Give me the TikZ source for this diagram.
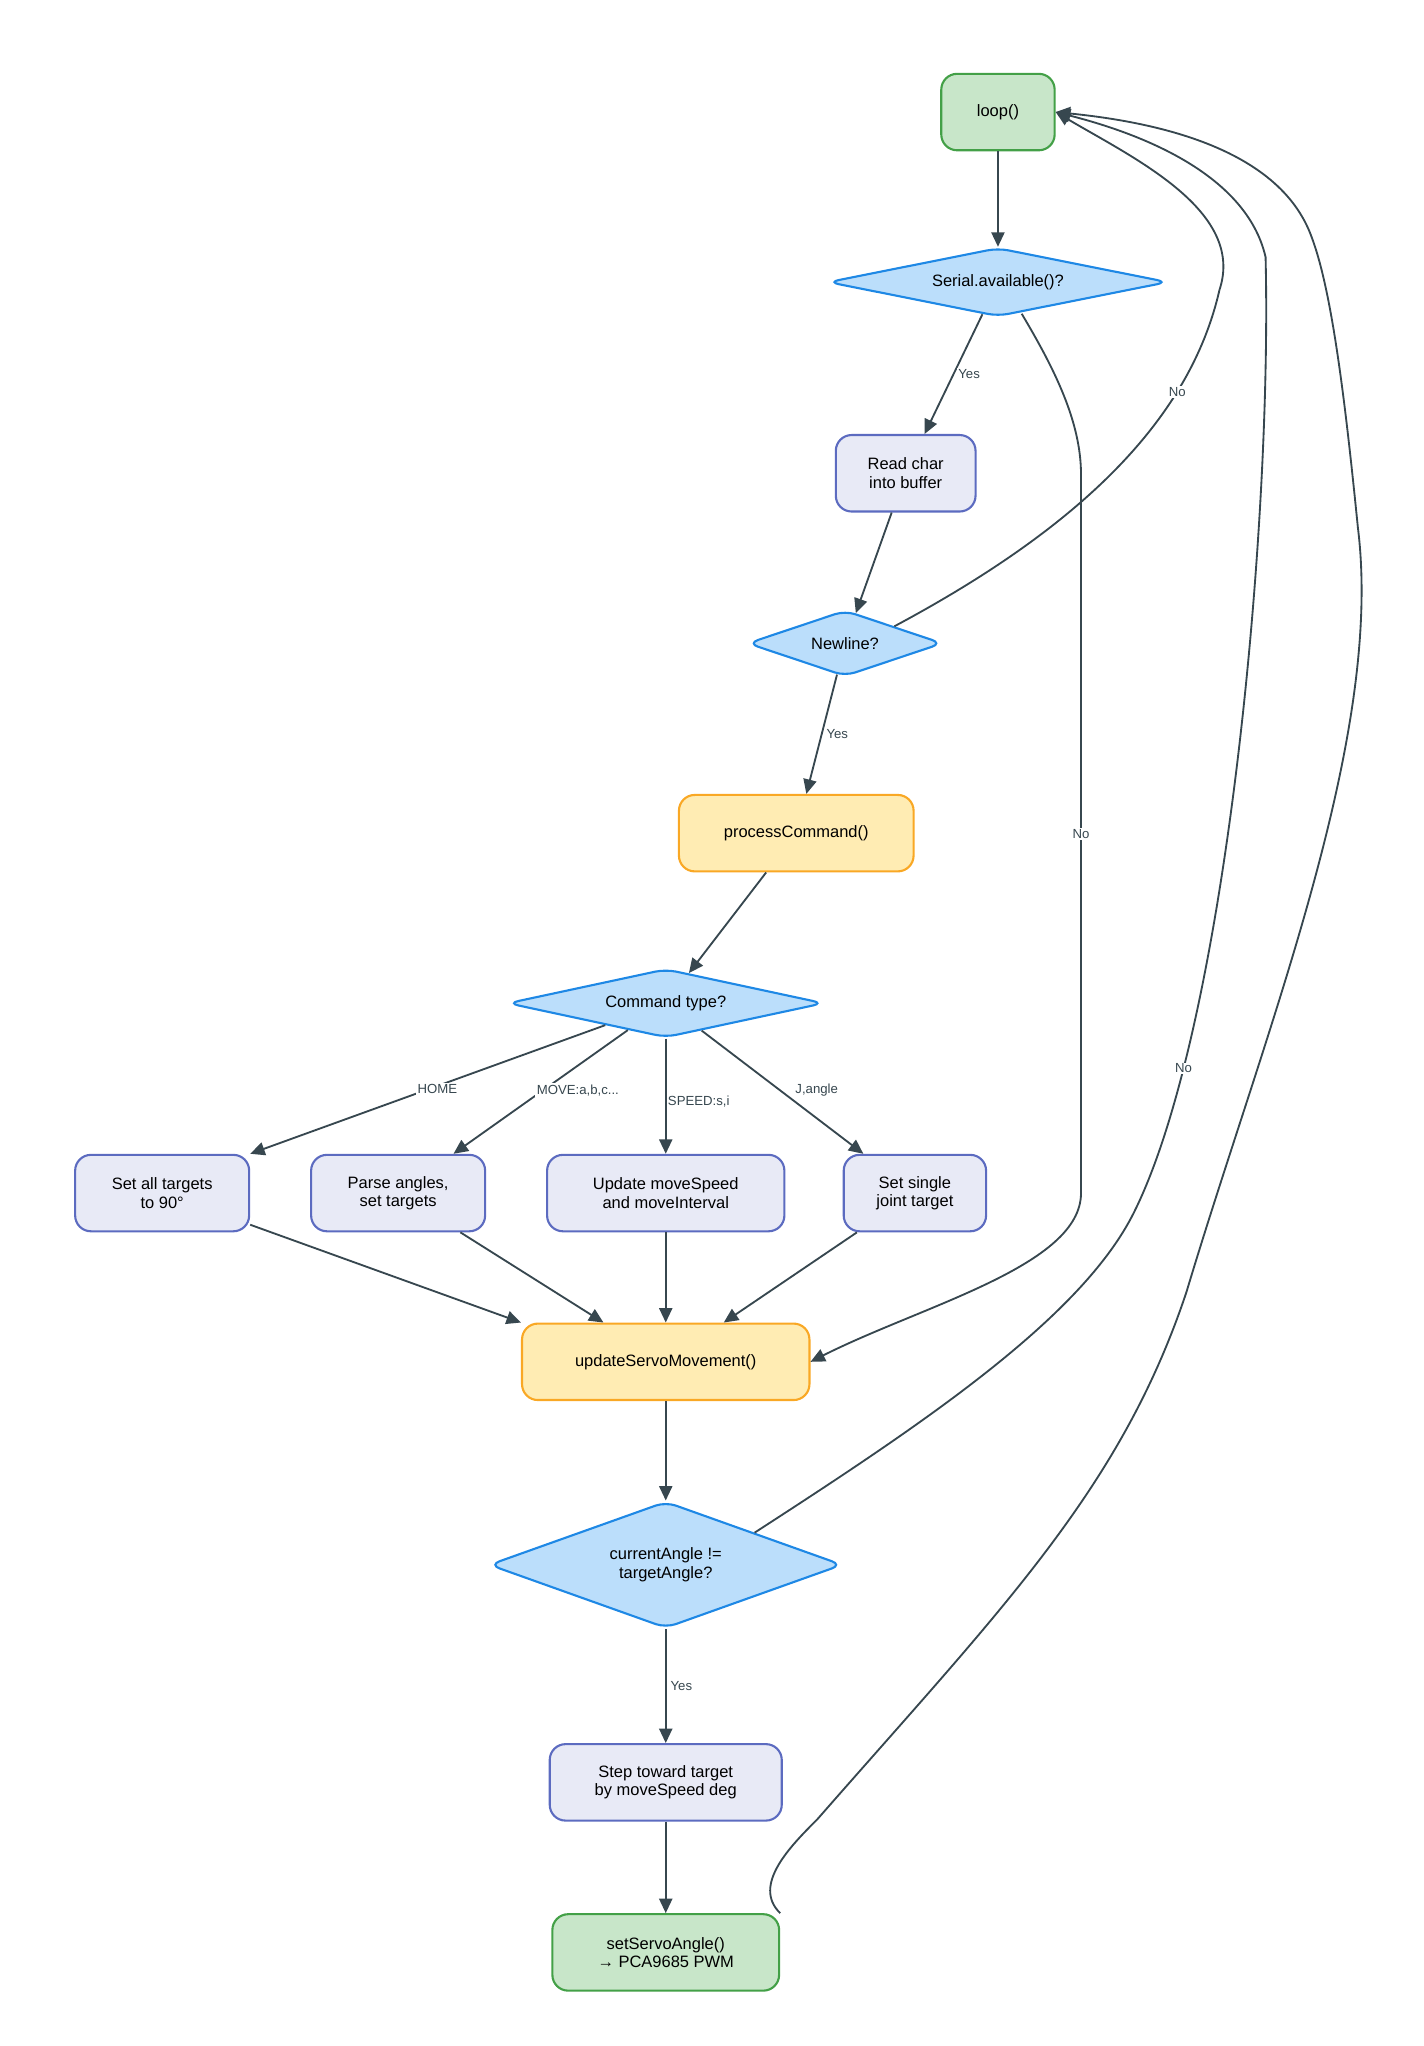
\documentclass[tikz,border=0pt]{standalone}
\usepackage{fontspec}
\setmainfont{Liberation Sans}
\usetikzlibrary{shapes.geometric, arrows.meta, positioning}
\definecolor{edge}{HTML}{37474F}
\definecolor{gfill}{HTML}{C8E6C9}\definecolor{gdraw}{HTML}{43A047}
\definecolor{bfill}{HTML}{BBDEFB}\definecolor{bdraw}{HTML}{1E88E5}
\definecolor{lfill}{HTML}{E8EAF6}\definecolor{ldraw}{HTML}{5C6BC0}
\definecolor{yfill}{HTML}{FFECB3}\definecolor{ydraw}{HTML}{F9A825}
\tikzset{
    base/.style={rectangle, rounded corners=12pt, minimum height=58pt, align=center, line width=1.6pt, font=\fontsize{12.5}{14}\selectfont},
    terminal/.style={base, fill=gfill, draw=gdraw},
    process/.style={base, fill=lfill, draw=ldraw},
    call/.style={base, fill=yfill, draw=ydraw},
    decision/.style={diamond, rounded corners=8pt, inner sep=0pt, align=center, fill=bfill, draw=bdraw, line width=1.6pt, font=\fontsize{12.5}{14}\selectfont},
    arrow/.style={line width=1.4pt, draw=edge, -{Triangle[length=11pt, width=10pt]}},
    lbl/.style={font=\fontsize{10}{12}\selectfont, text=edge, fill=white, inner sep=1pt}
}
\begin{document}
\begin{tikzpicture}[x=1pt, y=-1pt]
\useasboundingbox (0,0) rectangle (1080,1552);

% Nodes
\node (loop) [terminal, minimum width=86pt] at (757,85) {loop()};
\node (serial) [decision, minimum width=258pt, minimum height=52pt, aspect=5] at (757,214) {Serial.available()?};
\node (read) [process, minimum width=106pt] at (687,359) {Read char\\into buffer};
\node (newline) [decision, minimum width=148pt, minimum height=50pt, aspect=3] at (641,488) {Newline?};
\node (proc) [call, minimum width=178pt] at (604,632) {processCommand()};
\node (cmd) [decision, minimum width=240pt, minimum height=52pt, aspect=4.6] at (505,761) {Command type?};
\node (home) [process, minimum width=132pt] at (123,905) {Set all targets\\to 90°};
\node (parse) [process, minimum width=132pt] at (302,905) {Parse angles,\\set targets};
\node (speed) [process, minimum width=180pt] at (505,905) {Update moveSpeed\\and moveInterval};
\node (joint) [process, minimum width=108pt] at (694,905) {Set single\\joint target};
\node (usm) [call, minimum width=218pt] at (505,1033) {updateServoMovement()};
\node (cur) [decision, minimum width=268pt, minimum height=96pt, aspect=2.8] at (505,1187) {currentAngle !=\\targetAngle?};
\node (step) [process, minimum width=176pt] at (505,1352) {Step toward target\\by moveSpeed deg};
\node (set) [terminal, minimum width=172pt] at (505,1481) {setServoAngle()\\→ PCA9685 PWM};
\coordinate (sA) at (775,238);

% Arrows
\draw [arrow] (loop) -- (serial);
\draw [arrow] (serial) -- node[lbl, right=2pt] {Yes} (read);
\draw [arrow] (read) -- (newline);
\draw [arrow] (newline) -- node[lbl, right=2pt] {Yes} (proc);
\draw [arrow] (proc) -- (cmd);
\draw [arrow] (cmd) -- node[lbl, pos=0.55, above right=0pt and 4pt] {HOME} (home.north east);
\draw [arrow] (cmd) -- node[lbl, pos=0.55, above right=0pt and 2pt] {MOVE:a,b,c...} (parse);
\draw [arrow] (cmd) -- node[lbl, pos=0.55, right=0pt] {SPEED:s,i} (speed);
\draw [arrow] (cmd) -- node[lbl, pos=0.55, above right=0pt and 2pt] {J,angle} (joint);
\draw [arrow] (home) -- (usm.north west);
\draw [arrow] (parse) -- (usm);
\draw [arrow] (speed) -- (usm);
\draw [arrow] (joint) -- (usm);
\draw [arrow] (usm) -- (cur);
\draw [arrow] (cur) -- node[lbl, right=2pt] {Yes} (step);
\draw [arrow] (step) -- (set);

% Loop-back and skip edges
\draw [arrow] (newline.north east) .. controls (800,410) and (900,330) .. node[lbl, pos=0.75] {No} (925,220)
    .. controls (945,160) and (860,120) .. (loop.east);
\draw [arrow] (sA) .. controls (800,280) and (820,320) .. (820,360)
    -- node[lbl] {No} (820,905) .. controls (820,960) and (700,990) .. (usm.east);
\draw [arrow] (cur.north east) .. controls (700,1080) and (820,1000) .. (860,920)
    .. controls (930,780) and (965,400) .. node[lbl, pos=0.2] {No} (960,195) .. controls (945,130) and (860,100) .. (loop.east);
\draw [arrow] (set.north east) .. controls (570,1430) and (600,1400) .. (620,1380)
    .. controls (760,1220) and (850,1130) .. (900,980) .. controls (960,780) and (1050,560) .. (1030,400)
    .. controls (1020,300) and (1010,220) .. (995,180) .. controls (970,110) and (870,92) .. (loop.east);
\end{tikzpicture}
\end{document}
